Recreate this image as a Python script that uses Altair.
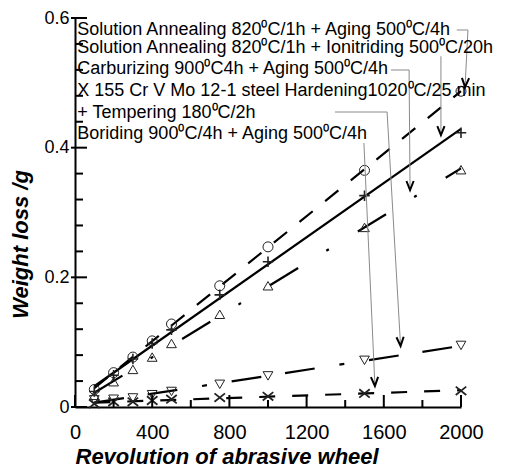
import altair as alt
import pandas as pd

# ---------------- data ----------------
revolutions = [100, 200, 300, 400, 500, 750, 1000, 1500, 2000]
sa_aging = [0.027, 0.053, 0.077, 0.102, 0.128, 0.187, 0.247, 0.365, 0.487]
sa_ionitriding = [0.024, 0.049, 0.074, 0.098, 0.119, 0.173, 0.224, 0.326, 0.423]
carburizing = [0.018, 0.039, 0.058, 0.077, 0.098, 0.143, 0.187, 0.277, 0.366]
hardening = [0.011, 0.012, 0.014, 0.019, 0.024, 0.035, 0.048, 0.072, 0.095]
boriding = [0.005, 0.008, 0.008, 0.010, 0.012, 0.0145, 0.0165, 0.021, 0.025]

series_keys = ["aging", "ionit", "carb", "hard", "borid"]
series_vals = [sa_aging, sa_ionitriding, carburizing, hardening, boriding]

legend_labels = [
    "Solution Annealing 820\u2070C/1h + Aging 500\u2070C/4h",
    "Solution Annealing 820\u2070C/1h + Ionitriding 500\u2070C/20h",
    "Carburizing 900\u2070C4h + Aging 500\u2070C/4h",
    "X 155 Cr V Mo 12-1 steel Hardening1020\u2070C/25 min",
    "+ Tempering 180\u2070C/2h",
    "Boriding 900\u2070C/4h + Aging 500\u2070C/4h",
]
legend_x = [12, 12, 12, 12, 12, 12]
legend_y = [0.582, 0.553, 0.521, 0.487, 0.454, 0.421]

# leader lines (id, x, y) in data units
leader_id = [1, 1, 1, 2, 2, 3, 3, 3, 5, 5, 5, 6, 6]
leader_x = [1978, 2036, 2021, 1896, 1896, 1637, 1731, 1736, 1347, 1617, 1687, 1497, 1554]
leader_y = [0.5815, 0.5815, 0.4936, 0.541, 0.4195, 0.5198, 0.5198, 0.3347,
            0.455, 0.455, 0.0941, 0.4072, 0.0324]
arrow_x = [2021, 1896, 1736, 1687, 1554]
arrow_y = [0.4936, 0.4195, 0.3347, 0.0941, 0.0324]
arrow_angle = [3, 0, 0, 356.7, 357.4]

x_major = [0, 400, 800, 1200, 1600, 2000]
x_minor = [200, 600, 1000, 1400, 1800]
y_major = [0, 0.2, 0.4, 0.6]
y_minor = [0.04, 0.08, 0.12, 0.16, 0.24, 0.28, 0.32, 0.36, 0.44, 0.48, 0.52, 0.56]

# ---------------- tables ----------------
rows = []
for k, vals in zip(series_keys, series_vals):
    for r, v in zip(revolutions, vals):
        rows.append({"series": k, "x": r, "y": v})
df = pd.DataFrame(rows)

df_text = pd.DataFrame({"x": legend_x, "y": legend_y, "label": legend_labels})
df_lead = pd.DataFrame({"id": leader_id, "x": leader_x, "y": leader_y,
                        "seq": list(range(len(leader_id)))})
df_arrow = pd.DataFrame({"x": arrow_x, "y": arrow_y, "a": arrow_angle})

W, H = 386, 389
FONT = "Liberation Sans"
xs = alt.Scale(domain=[0, 2000], nice=False, zero=False)
ys = alt.Scale(domain=[0, 0.6], nice=False, zero=False)

x_axis = alt.Axis(
    values=x_major, ticks=False, tickSize=0, grid=False, format="d",
    domainColor="black", domainWidth=2,
    labelFont=FONT, labelFontSize=20, labelColor="black", labelPadding=15,
    labelFlush=False,
    title="Revolution of abrasive wheel", titleFont=FONT, titleFontSize=22,
    titleFontWeight="bold", titleFontStyle="italic", titleColor="black",
    titleX=0, titleY=56, titleAlign="left", titleBaseline="alphabetic",
)
y_axis = alt.Axis(
    values=y_major, ticks=False, tickSize=0, grid=False,
    domainColor="black", domainWidth=2,
    labelFont=FONT, labelFontSize=18, labelColor="black", labelPadding=6,
    labelFlush=False,
    labelExpr="datum.value == 0 ? '0' : format(datum.value, '.1f')",
    title="Weight loss /g", titleFont=FONT, titleFontSize=22,
    titleFontWeight="bold", titleFontStyle="italic", titleColor="black",
    titleX=-55, titleY=226, titleAngle=270, titleAlign="center",
    titleBaseline="middle",
)

X = lambda: alt.X("x:Q", scale=xs, axis=x_axis)
Y = lambda: alt.Y("y:Q", scale=ys, axis=y_axis)

dash_styles = {
    "aging": [17, 16],
    "ionit": None,
    "carb": [33, 33, 3, 34],
    "hard": [30, 24, 30, 25, 5, 25],
    "borid": [16, 17],
}
line_layers = []
for k in series_keys:
    kw = dict(color="black", strokeWidth=2.2)
    if dash_styles[k] is not None:
        kw["strokeDash"] = dash_styles[k]
    line_layers.append(
        alt.Chart(df).transform_filter(alt.datum.series == k)
        .transform_regression("x", "y")
        .mark_line(**kw)
        .encode(x=X(), y=Y())
    )

marker_shapes = {
    "aging": ("circle", 100, 1.0),
    "ionit": ("M-1,0L1,0M0,-1L0,1", 110, 1.6),
    "carb": ("triangle-up", 95, 1.0),
    "hard": ("triangle-down", 95, 1.0),
    "borid": ("M-1,-0.8L1,0.8M-1,0.8L1,-0.8", 110, 1.8),
}
marker_layers = []
for k in series_keys:
    shp, sz, sw = marker_shapes[k]
    marker_layers.append(
        alt.Chart(df).transform_filter(alt.datum.series == k)
        .mark_point(shape=shp, size=sz, filled=False, strokeWidth=sw,
                    color="#222222", opacity=1)
        .encode(x=X(), y=Y())
    )

leaders = alt.Chart(df_lead).mark_line(color="#8a8a8a", strokeWidth=1).encode(
    x=X(), y=Y(), detail="id:N", order="seq:Q"
)
arrows = alt.Chart(df_arrow).mark_point(
    shape="M-0.4,-1L0,0L0.4,-1", size=324, filled=False, strokeWidth=2,
    color="black", opacity=1
).encode(x=X(), y=Y(), angle=alt.Angle("a:Q", scale=None))

texts = alt.Chart(df_text).mark_text(
    align="left", baseline="middle", font=FONT, fontSize=18, color="black"
).encode(x=X(), y=Y(), text="label:N")

df_xmaj = pd.DataFrame({"x": x_major})
df_xmin = pd.DataFrame({"x": x_minor})
df_ymaj = pd.DataFrame({"y": y_major})
df_ymin = pd.DataFrame({"y": y_minor})

xt_major = alt.Chart(df_xmaj).mark_rule(color="black", strokeWidth=2).encode(
    x=X(), y=alt.value(H), y2=alt.value(H - 12))
xt_minor = alt.Chart(df_xmin).mark_rule(color="black", strokeWidth=2).encode(
    x=X(), y=alt.value(H), y2=alt.value(H - 7))
yt_major = alt.Chart(df_ymaj).mark_rule(color="black", strokeWidth=2).encode(
    y=Y(), x=alt.value(-4), x2=alt.value(12))
yt_minor = alt.Chart(df_ymin).mark_rule(color="black", strokeWidth=2).encode(
    y=Y(), x=alt.value(0), x2=alt.value(8))

chart = alt.layer(
    *line_layers, *marker_layers, leaders, arrows, texts,
    xt_major, xt_minor, yt_major, yt_minor,
).properties(
    width=W, height=H,
    autosize=alt.AutoSizeParams(type="none"),
    padding={"left": 75, "top": 18, "right": 44, "bottom": 61},
    background="white",
).configure_view(stroke=None)

chart.save("out.html", embed_options={"renderer": "svg", "actions": False})
